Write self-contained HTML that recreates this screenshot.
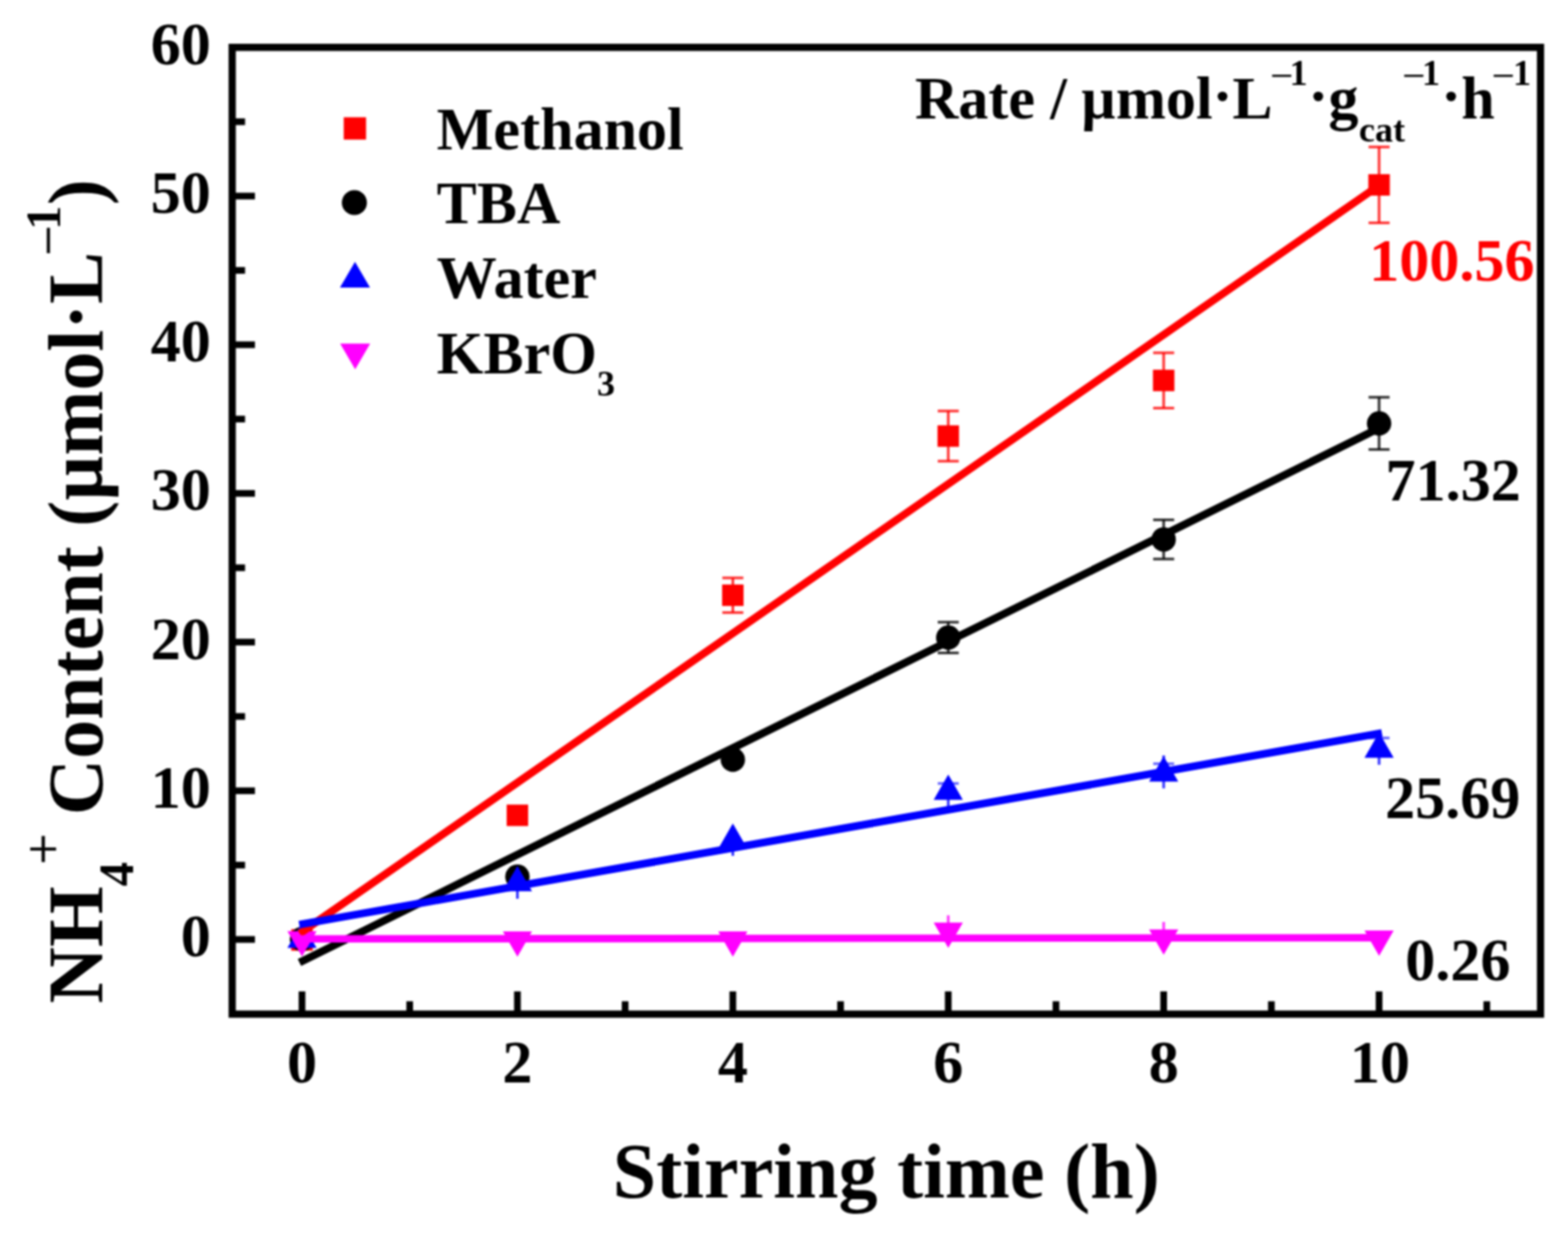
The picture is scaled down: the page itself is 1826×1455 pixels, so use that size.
<!DOCTYPE html>
<html lang="en"><head><meta charset="utf-8">
<title>NH4+ content vs stirring time</title>
<style>
html,body{margin:0;padding:0;background:#fff;}
body{width:1826px;height:1455px;overflow:hidden;}
svg{display:block;filter:blur(0.9px);}
text{font-family:'Liberation Serif', 'DejaVu Serif', serif;font-weight:bold;fill:#000;}
.thin{font-weight:normal;}
.mn{font-weight:normal;stroke:#000;stroke-width:0.6px;}
</style></head><body>
<svg width="1826" height="1455" viewBox="0 0 1826 1455" role="img" aria-label="NH4+ content versus stirring time">
<rect x="0" y="0" width="1826" height="1455" fill="#ffffff"/>
<g stroke="#000" stroke-width="7.80" stroke-linecap="butt" fill="none">
<line x1="351.70" y1="1181.40" x2="351.70" y2="1154.90"/>
<line x1="477.13" y1="1181.40" x2="477.13" y2="1166.40"/>
<line x1="602.56" y1="1181.40" x2="602.56" y2="1154.90"/>
<line x1="727.99" y1="1181.40" x2="727.99" y2="1166.40"/>
<line x1="853.42" y1="1181.40" x2="853.42" y2="1154.90"/>
<line x1="978.85" y1="1181.40" x2="978.85" y2="1166.40"/>
<line x1="1104.28" y1="1181.40" x2="1104.28" y2="1154.90"/>
<line x1="1229.71" y1="1181.40" x2="1229.71" y2="1166.40"/>
<line x1="1355.14" y1="1181.40" x2="1355.14" y2="1154.90"/>
<line x1="1480.57" y1="1181.40" x2="1480.57" y2="1166.40"/>
<line x1="1606.00" y1="1181.40" x2="1606.00" y2="1154.90"/>
<line x1="1731.43" y1="1181.40" x2="1731.43" y2="1166.40"/>
<line x1="270.40" y1="1094.40" x2="296.90" y2="1094.40"/>
<line x1="270.40" y1="1007.80" x2="285.40" y2="1007.80"/>
<line x1="270.40" y1="921.20" x2="296.90" y2="921.20"/>
<line x1="270.40" y1="834.60" x2="285.40" y2="834.60"/>
<line x1="270.40" y1="748.00" x2="296.90" y2="748.00"/>
<line x1="270.40" y1="661.40" x2="285.40" y2="661.40"/>
<line x1="270.40" y1="574.80" x2="296.90" y2="574.80"/>
<line x1="270.40" y1="488.20" x2="285.40" y2="488.20"/>
<line x1="270.40" y1="401.60" x2="296.90" y2="401.60"/>
<line x1="270.40" y1="315.00" x2="285.40" y2="315.00"/>
<line x1="270.40" y1="228.40" x2="296.90" y2="228.40"/>
<line x1="270.40" y1="141.80" x2="285.40" y2="141.80"/>
</g>
<g id="series-methanol">
<rect x="339.20" y="1082.50" width="25.00" height="25.00" fill="#ff0000"/>
<rect x="590.06" y="937.30" width="25.00" height="25.00" fill="#ff0000"/>
<g stroke="#ff0000" stroke-width="3.10" stroke-opacity="0.8" fill="none"><line x1="853.42" y1="673.20" x2="853.42" y2="713.60"/><line x1="841.17" y1="673.20" x2="865.67" y2="673.20"/><line x1="841.17" y1="713.60" x2="865.67" y2="713.60"/></g>
<rect x="840.92" y="680.90" width="25.00" height="25.00" fill="#ff0000"/>
<g stroke="#ff0000" stroke-width="3.10" stroke-opacity="0.8" fill="none"><line x1="1104.28" y1="478.80" x2="1104.28" y2="537.20"/><line x1="1092.03" y1="478.80" x2="1116.53" y2="478.80"/><line x1="1092.03" y1="537.20" x2="1116.53" y2="537.20"/></g>
<rect x="1091.78" y="495.50" width="25.00" height="25.00" fill="#ff0000"/>
<g stroke="#ff0000" stroke-width="3.10" stroke-opacity="0.8" fill="none"><line x1="1355.14" y1="411.00" x2="1355.14" y2="475.40"/><line x1="1342.89" y1="411.00" x2="1367.39" y2="411.00"/><line x1="1342.89" y1="475.40" x2="1367.39" y2="475.40"/></g>
<rect x="1342.64" y="430.70" width="25.00" height="25.00" fill="#ff0000"/>
<g stroke="#ff0000" stroke-width="3.10" stroke-opacity="0.8" fill="none"><line x1="1606.00" y1="171.20" x2="1606.00" y2="259.60"/><line x1="1593.75" y1="171.20" x2="1618.25" y2="171.20"/><line x1="1593.75" y1="259.60" x2="1618.25" y2="259.60"/></g>
<rect x="1593.50" y="202.90" width="25.00" height="25.00" fill="#ff0000"/>
</g>
<g id="series-tba">
<circle cx="351.70" cy="1094.00" r="14.20" fill="#000000"/>
<circle cx="602.56" cy="1021.20" r="14.20" fill="#000000"/>
<circle cx="853.42" cy="885.00" r="14.20" fill="#000000"/>
<g stroke="#000000" stroke-width="3.10" stroke-opacity="0.8" fill="none"><line x1="1104.28" y1="724.80" x2="1104.28" y2="760.60"/><line x1="1092.03" y1="724.80" x2="1116.53" y2="724.80"/><line x1="1092.03" y1="760.60" x2="1116.53" y2="760.60"/></g>
<circle cx="1104.28" cy="742.70" r="14.20" fill="#000000"/>
<g stroke="#000000" stroke-width="3.10" stroke-opacity="0.8" fill="none"><line x1="1355.14" y1="605.60" x2="1355.14" y2="651.20"/><line x1="1342.89" y1="605.60" x2="1367.39" y2="605.60"/><line x1="1342.89" y1="651.20" x2="1367.39" y2="651.20"/></g>
<circle cx="1355.14" cy="628.40" r="14.20" fill="#000000"/>
<g stroke="#000000" stroke-width="3.10" stroke-opacity="0.8" fill="none"><line x1="1606.00" y1="462.80" x2="1606.00" y2="523.60"/><line x1="1593.75" y1="462.80" x2="1618.25" y2="462.80"/><line x1="1593.75" y1="523.60" x2="1618.25" y2="523.60"/></g>
<circle cx="1606.00" cy="493.20" r="14.20" fill="#000000"/>
</g>
<g id="series-water">
<polygon points="351.70,1074.73 368.70,1104.23 334.70,1104.23" fill="#0000ff"/>
<g stroke="#0000ff" stroke-width="3.10" stroke-opacity="0.8" fill="none"><line x1="602.56" y1="1028.50" x2="602.56" y2="1047.00"/></g>
<polygon points="602.56,1008.83 619.56,1038.33 585.56,1038.33" fill="#0000ff"/>
<g stroke="#0000ff" stroke-width="3.10" stroke-opacity="0.8" fill="none"><line x1="853.42" y1="979.00" x2="853.42" y2="997.00"/></g>
<polygon points="853.42,959.33 870.42,988.83 836.42,988.83" fill="#0000ff"/>
<g stroke="#0000ff" stroke-width="3.10" stroke-opacity="0.8" fill="none"><line x1="1104.28" y1="921.80" x2="1104.28" y2="939.80"/></g>
<line x1="1092.08" y1="912.70" x2="1116.48" y2="912.70" stroke="#0000ff" stroke-width="3.10" stroke-opacity="0.6"/>
<polygon points="1104.28,902.13 1121.28,931.63 1087.28,931.63" fill="#0000ff"/>
<g stroke="#0000ff" stroke-width="3.10" stroke-opacity="0.8" fill="none"><line x1="1355.14" y1="880.00" x2="1355.14" y2="918.40"/></g>
<line x1="1342.94" y1="889.70" x2="1367.34" y2="889.70" stroke="#0000ff" stroke-width="3.10" stroke-opacity="0.6"/>
<polygon points="1355.14,880.93 1372.14,910.43 1338.14,910.43" fill="#0000ff"/>
<g stroke="#0000ff" stroke-width="3.10" stroke-opacity="0.8" fill="none"><line x1="1606.00" y1="852.00" x2="1606.00" y2="890.90"/></g>
<line x1="1593.80" y1="859.70" x2="1618.20" y2="859.70" stroke="#0000ff" stroke-width="3.10" stroke-opacity="0.6"/>
<polygon points="1606.00,853.33 1623.00,882.83 1589.00,882.83" fill="#0000ff"/>
</g>
<g id="series-kbro3">
<polygon points="334.70,1084.77 368.70,1084.77 351.70,1114.27" fill="#ff00ff"/>
<polygon points="585.56,1085.07 619.56,1085.07 602.56,1114.57" fill="#ff00ff"/>
<polygon points="836.42,1085.07 870.42,1085.07 853.42,1114.57" fill="#ff00ff"/>
<g stroke="#ff00ff" stroke-width="3.10" stroke-opacity="0.8" fill="none"><line x1="1104.28" y1="1066.30" x2="1104.28" y2="1084.60"/></g>
<polygon points="1087.28,1074.77 1121.28,1074.77 1104.28,1104.27" fill="#ff00ff"/>
<g stroke="#ff00ff" stroke-width="3.10" stroke-opacity="0.8" fill="none"><line x1="1355.14" y1="1074.00" x2="1355.14" y2="1092.70"/></g>
<polygon points="1338.14,1082.87 1372.14,1082.87 1355.14,1112.37" fill="#ff00ff"/>
<polygon points="1589.00,1083.97 1623.00,1083.97 1606.00,1113.47" fill="#ff00ff"/>
</g>
<g id="fits" fill="none" stroke-linecap="butt">
<line x1="348.99" y1="1087.48" x2="1608.71" y2="214.12" stroke="#ff0000" stroke-width="9.00"/>
<line x1="348.74" y1="1121.26" x2="1608.96" y2="497.34" stroke="#000000" stroke-width="9.00"/>
<line x1="348.45" y1="1077.18" x2="1609.25" y2="853.92" stroke="#0000ff" stroke-width="9.00"/>
<line x1="348.40" y1="1093.80" x2="1609.30" y2="1092.40" stroke="#ff00ff" stroke-width="8.60"/>
</g>
<rect x="270.40" y="55.20" width="1523.60" height="1126.20" fill="none" stroke="#000" stroke-width="8.40"/>
<g font-size="70">
<text x="245.60" y="1114.00" text-anchor="end">0</text>
<text x="245.60" y="940.80" text-anchor="end">10</text>
<text x="245.60" y="767.60" text-anchor="end">20</text>
<text x="245.60" y="594.40" text-anchor="end">30</text>
<text x="245.60" y="421.20" text-anchor="end">40</text>
<text x="245.60" y="248.00" text-anchor="end">50</text>
<text x="245.60" y="74.80" text-anchor="end">60</text>
<text x="351.70" y="1260.60" text-anchor="middle">0</text>
<text x="602.56" y="1260.60" text-anchor="middle">2</text>
<text x="853.42" y="1260.60" text-anchor="middle">4</text>
<text x="1104.28" y="1260.60" text-anchor="middle">6</text>
<text x="1355.14" y="1260.60" text-anchor="middle">8</text>
<text x="1607.00" y="1260.60" text-anchor="middle">10</text>
</g>
<text x="1032.00" y="1395.40" font-size="91" text-anchor="middle">Stirring time (h)</text>
<text transform="translate(119.00,1169.00) rotate(-90)" font-size="91" text-anchor="start">NH<tspan font-size="56.4" dy="36.0">4</tspan><tspan class="mn" font-size="64.3" dy="-83.0" dx="-3.0">+</tspan><tspan dy="47.0" dx="-1.5"> Content (µmol·L</tspan><tspan class="mn" font-size="62.1" dy="-42.2" dx="-4.5">−</tspan><tspan font-size="56.4" dy="-6.8" dx="-5.0">1</tspan><tspan dy="49.0" dx="0.5">)</tspan></text>
<rect x="400.30" y="136.60" width="26.00" height="26.00" fill="#ff0000"/>
<circle cx="412.70" cy="236.00" r="14.60" fill="#000000"/>
<polygon points="413.40,305.00 430.90,335.00 395.90,335.00" fill="#0000ff"/>
<polygon points="396.10,400.20 431.10,400.20 413.60,430.20" fill="#ff00ff"/>
<g font-size="70">
<text x="508.50" y="173.80">Methanol</text>
<text x="508.50" y="260.20">TBA</text>
<text x="508.50" y="346.80">Water</text>
<text x="508.50" y="434.80">KBrO<tspan font-size="42.0" dy="26.3">3</tspan></text>
</g>
<text font-size="70"><tspan x="1065.50" y="137.60">Rate / </tspan><tspan x="1259.10" y="137.60">µmol</tspan><tspan x="1411.90" y="135.40">·</tspan><tspan x="1435.30" y="137.60">L</tspan><tspan x="1479.60" y="104.20" font-size="47.0" class="mn" style="stroke-width:0.3px">−</tspan><tspan x="1501.80" y="99.10" font-size="42.0">1</tspan><tspan x="1523.40" y="135.40">·</tspan><tspan x="1546.90" y="137.60">g</tspan><tspan x="1582.50" y="164.60" font-size="42.0">cat</tspan><tspan x="1633.30" y="104.20" font-size="47.0" class="mn" style="stroke-width:0.3px">−</tspan><tspan x="1656.00" y="99.10" font-size="42.0">1</tspan><tspan x="1678.20" y="135.40">·</tspan><tspan x="1701.70" y="137.60">h</tspan><tspan x="1737.40" y="104.20" font-size="47.0" class="mn" style="stroke-width:0.3px">−</tspan><tspan x="1761.90" y="99.10" font-size="42.0">1</tspan></text>
<g font-size="70">
<text x="1594.60" y="327.00" style="fill:#ff0000">100.56</text>
<text x="1613.50" y="583.10">71.32</text>
<text x="1613.00" y="953.00">25.69</text>
<text x="1636.50" y="1141.50">0.26</text>
</g>
</svg>
</body></html>
